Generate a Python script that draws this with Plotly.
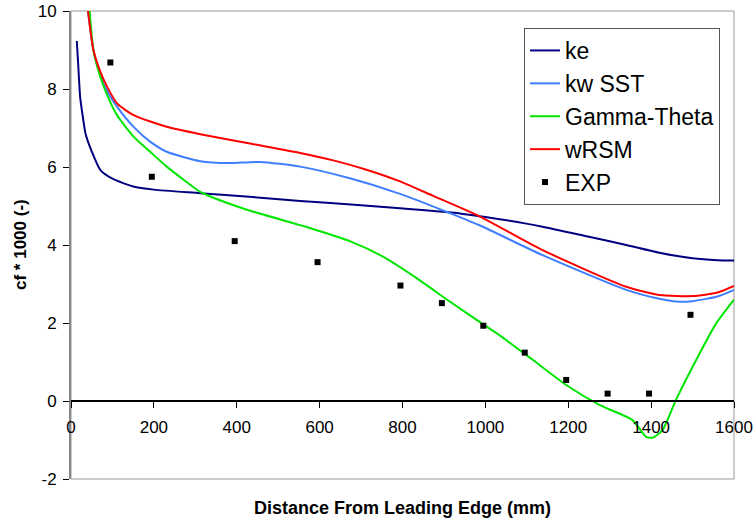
import plotly.graph_objects as go

# ---- data ----
ke_x = [14, 17, 22, 27, 35, 50, 71, 100, 150, 200, 312, 450, 553, 700, 794, 938, 1000, 1138, 1250, 1340, 1420, 1500, 1560, 1600]
ke_y = [9.23, 8.7, 7.8, 7.4, 6.86, 6.4, 5.92, 5.7, 5.5, 5.42, 5.33, 5.22, 5.13, 5.02, 4.94, 4.81, 4.72, 4.47, 4.21, 4.0, 3.8, 3.66, 3.61, 3.6]

sst_x = [41, 54, 71, 87, 111, 151, 191, 231, 312, 380, 456, 553, 673, 794, 890, 987, 1138, 1340, 1420, 1461, 1500, 1560, 1600]
sst_y = [10.0, 9.0, 8.35, 7.95, 7.55, 7.03, 6.65, 6.39, 6.15, 6.1, 6.13, 6.01, 5.71, 5.31, 4.92, 4.5, 3.74, 2.85, 2.62, 2.55, 2.56, 2.68, 2.85]

gt_x = [45, 54, 71, 87, 111, 151, 191, 231, 312, 330, 432, 553, 593, 673, 753, 834, 914, 994, 1035, 1115, 1195, 1275, 1355, 1388, 1404, 1428, 1460, 1517, 1557, 1600]
gt_y = [10.0, 9.0, 8.3, 7.85, 7.33, 6.78, 6.39, 6.01, 5.36, 5.27, 4.88, 4.51, 4.38, 4.1, 3.7, 3.15, 2.55, 1.97, 1.68, 1.05, 0.41, -0.1, -0.49, -0.92, -0.94, -0.74, 0.03, 1.22, 1.99, 2.6]

rsm_x = [41, 54, 71, 87, 111, 151, 231, 312, 432, 553, 633, 713, 794, 874, 987, 1138, 1340, 1420, 1500, 1560, 1600]
rsm_y = [10.0, 9.0, 8.44, 8.06, 7.63, 7.33, 7.03, 6.84, 6.6, 6.36, 6.17, 5.93, 5.63, 5.26, 4.73, 3.87, 2.93, 2.72, 2.69, 2.78, 2.95]

exp_x = [95, 195, 395, 595, 795, 895, 995, 1095, 1195, 1295, 1395, 1495]
exp_y = [8.68, 5.75, 4.10, 3.56, 2.96, 2.51, 1.93, 1.24, 0.54, 0.19, 0.19, 2.21]

x_ticks = [0, 200, 400, 600, 800, 1000, 1200, 1400, 1600]
y_ticks = [-2, 0, 2, 4, 6, 8, 10]

FONT = "Liberation Sans, Arial, sans-serif"

fig = go.Figure()
sm = 0.6
fig.add_trace(go.Scatter(x=ke_x, y=ke_y, mode="lines", name="ke",
                         line=dict(color="#000080", width=2, shape="spline", smoothing=sm)))
fig.add_trace(go.Scatter(x=sst_x, y=sst_y, mode="lines", name="kw SST",
                         line=dict(color="#3f7fff", width=2, shape="spline", smoothing=sm)))
fig.add_trace(go.Scatter(x=gt_x, y=gt_y, mode="lines", name="Gamma-Theta",
                         line=dict(color="#00e600", width=2, shape="spline", smoothing=sm)))
fig.add_trace(go.Scatter(x=rsm_x, y=rsm_y, mode="lines", name="wRSM",
                         line=dict(color="#ff0000", width=2, shape="spline", smoothing=sm)))
fig.add_trace(go.Scatter(x=exp_x, y=exp_y, mode="markers", name="EXP",
                         marker=dict(symbol="square", size=6, color="black")))

L, R, T, B = 71, 22, 11, 46
W, H = 756, 525
pw = W - L - R
ph = H - T - B

fig.update_layout(
    width=W, height=H,
    margin=dict(l=L, r=R, t=T, b=B, autoexpand=False),
    plot_bgcolor="white", paper_bgcolor="white",
    font=dict(family=FONT, size=17, color="black"),
    showlegend=True,
    legend=dict(x=(524 - L) / pw, y=(H - B - 28) / ph, xanchor="left", yanchor="top",
                bgcolor="white", bordercolor="#555555", borderwidth=1,
                font=dict(family=FONT, size=23, color="black"),
                itemwidth=30, tracegroupgap=0),
    xaxis=dict(range=[0, 1600], tickvals=x_ticks, ticktext=[str(v) for v in x_ticks],
               ticks="outside", ticklen=6, tickcolor="black", tickwidth=1,
               showline=True, linecolor="black", linewidth=1.5,
               anchor="free", position=2 / 12, showgrid=False, zeroline=False,
               automargin=False, ticklabelstandoff=5,
               tickfont=dict(family=FONT, size=17, color="black")),
    yaxis=dict(range=[-2, 10], tickvals=y_ticks, ticktext=[str(v) for v in y_ticks],
               ticks="outside", ticklen=6, tickcolor="black", tickwidth=1,
               showline=True, linecolor="#888888", linewidth=2,
               showgrid=False, zeroline=False, automargin=False, ticklabelstandoff=3,
               tickfont=dict(family=FONT, size=17, color="black")),
    shapes=[dict(type="rect", xref="paper", yref="paper", x0=0, y0=0, x1=1, y1=1,
                 line=dict(color="#999999", width=1), layer="below")],
    annotations=[
        dict(text="<b>Distance From Leading Edge (mm)</b>", xref="paper", yref="paper",
             x=0.5, y=(H - B - 508) / ph, xanchor="center", yanchor="middle",
             showarrow=False, font=dict(family=FONT, size=18, color="black")),
        dict(text="<b>cf * 1000 (-)</b>", xref="paper", yref="paper",
             x=(20 - L) / pw, y=0.5, xanchor="center", yanchor="middle", textangle=-90,
             showarrow=False, font=dict(family=FONT, size=17, color="black")),
    ],
)

fig.write_html("out.html")
